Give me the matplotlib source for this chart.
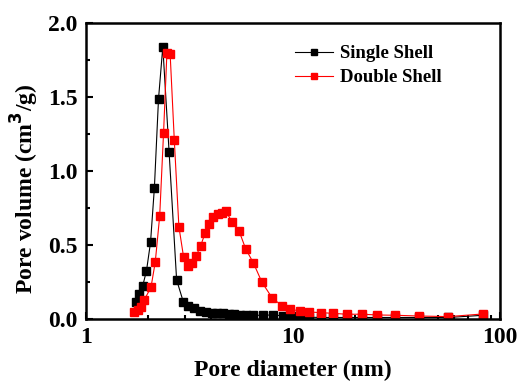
import matplotlib
matplotlib.use("Agg")
import matplotlib.pyplot as plt
from matplotlib.ticker import AutoMinorLocator, FixedLocator, NullFormatter

plt.rcParams['font.family'] = ['Liberation Serif']
plt.rcParams['font.weight'] = 'bold'

single_d = [1.74, 1.81, 1.88, 1.96, 2.05, 2.14, 2.24, 2.35, 2.52, 2.74, 2.95, 3.12, 3.34,
            3.57, 3.80, 4.05, 4.31, 4.61, 4.91, 5.20, 5.54, 5.93, 6.43, 7.13, 7.97, 8.90,
            9.86, 10.8, 12.0, 13.6, 15.6, 18.2, 21.6, 25.5, 31.2, 40.6, 56.3, 83.0]
single_v = [0.117, 0.169, 0.225, 0.326, 0.518, 0.887, 1.486, 1.84, 1.13, 0.264, 0.117, 0.09, 0.072,
            0.056, 0.050, 0.038, 0.038, 0.038, 0.034, 0.032, 0.027, 0.027, 0.025, 0.025, 0.027, 0.022,
            0.018, 0.015, 0.012, 0.010, 0.010, 0.010, 0.010, 0.010, 0.010, 0.010, 0.010, 0.025]

double_d = [1.71, 1.78, 1.84, 1.91, 2.06, 2.16, 2.27, 2.37, 2.46, 2.55, 2.67, 2.81, 2.96,
            3.10, 3.24, 3.41, 3.58, 3.76, 3.93, 4.12, 4.34, 4.54, 4.73, 5.07, 5.48, 5.91,
            6.43, 7.08, 7.95, 8.85, 9.7, 10.8, 12.0, 13.6, 15.6, 18.2, 21.6, 25.5, 31.2,
            40.6, 56.3, 83.0]
double_v = [0.05, 0.06, 0.083, 0.128, 0.214, 0.383, 0.696, 1.26, 1.80, 1.79, 1.21, 0.624, 0.42,
            0.36, 0.376, 0.428, 0.495, 0.579, 0.642, 0.687, 0.707, 0.718, 0.73, 0.657, 0.597, 0.473,
            0.38, 0.248, 0.14, 0.09, 0.068, 0.052, 0.047, 0.043, 0.038, 0.032, 0.032, 0.027, 0.025,
            0.02, 0.016, 0.034]

fig = plt.figure(figsize=(5.19, 3.82), dpi=100)
ax = fig.add_axes([0.1657, 0.165, 0.7977, 0.7748])

ax.plot(single_d, single_v, color='black', lw=0.8, marker='s', ms=5.5, mec='black', mfc='black',
        label='Single Shell')
ax.plot(double_d, double_v, color='red', lw=0.8, marker='s', ms=5.5, mec='red', mfc='red',
        label='Double Shell')

ax.set_xscale('log')
ax.set_xlim(1, 100)
ax.set_ylim(0, 2.0)
ax.set_xticks([1, 10, 100])
ax.set_xticklabels(['1', '10', '100'])
ax.set_yticks([0.0, 0.5, 1.0, 1.5, 2.0])
ax.set_yticklabels(['0.0', '0.5', '1.0', '1.5', '2.0'])
ax.yaxis.set_minor_locator(AutoMinorLocator(2))
ax.xaxis.set_minor_locator(FixedLocator([m * 10**e for e in (0, 1) for m in range(2, 10)]))
ax.xaxis.set_minor_formatter(NullFormatter())

ax.tick_params(which='both', direction='in', labelsize=17, width=1.5)
ax.tick_params(which='major', length=5, pad=6)
ax.tick_params(which='minor', length=3)
for s in ax.spines.values():
    s.set_linewidth(1.8)

ax.set_xlabel('Pore diameter (nm)', fontsize=17, fontweight='bold', labelpad=8)
ax.set_ylabel('Pore volume (cm$^\\mathbf{3}$/g)', fontsize=17, fontweight='bold')
ax.yaxis.set_label_coords(-0.108, 0.44)

leg = ax.legend(loc='upper left', frameon=False, handlelength=2.0, handletextpad=0.4,
                bbox_to_anchor=(0.505, 0.925), borderaxespad=0, borderpad=0, labelspacing=0.36,
                markerscale=0.75, prop={'weight': 'bold', 'size': 13.5})

fig.savefig('out.png', dpi=100)
